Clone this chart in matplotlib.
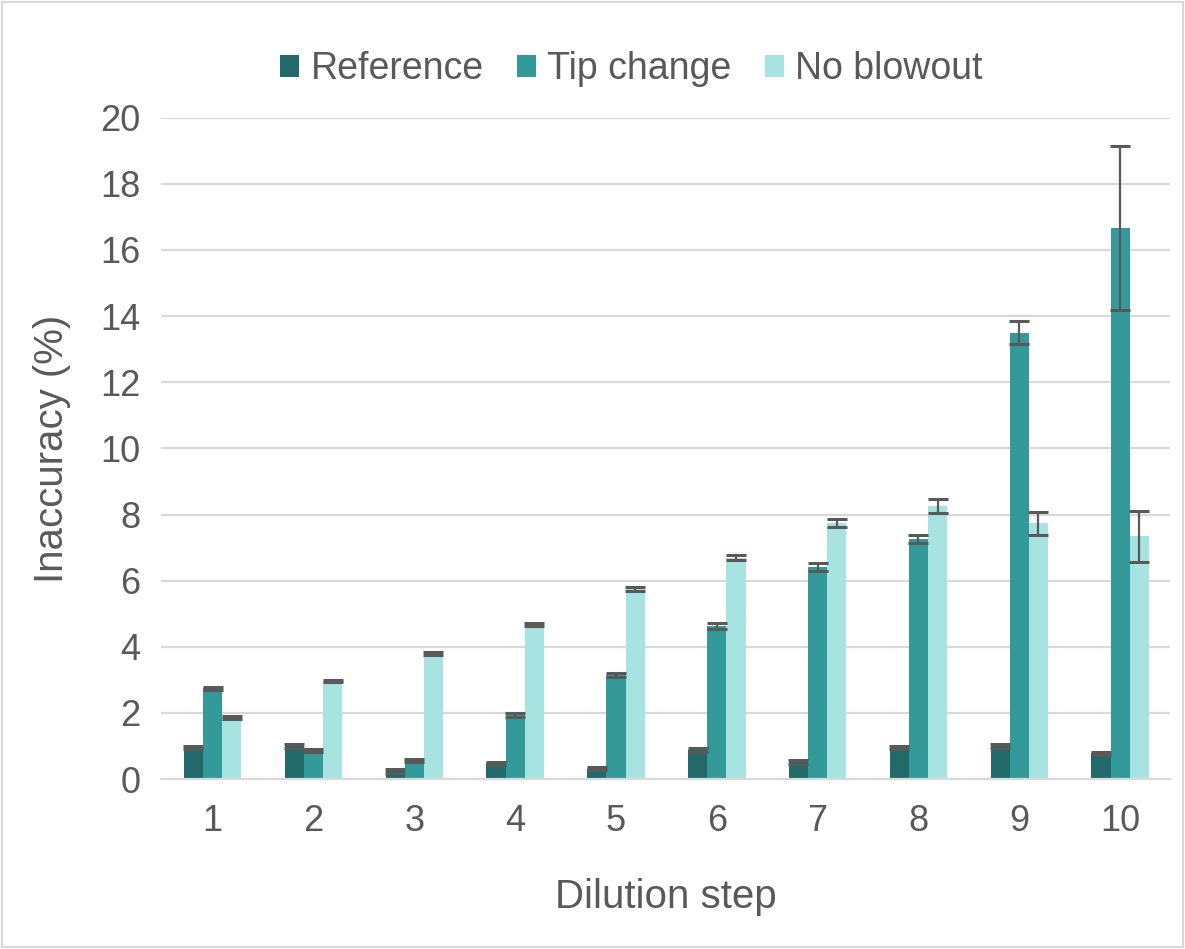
import matplotlib
matplotlib.use("Agg")
import matplotlib.pyplot as plt
import numpy as np
from matplotlib.patches import Rectangle

plt.rcParams['font.family'] = ['Liberation Sans', 'DejaVu Sans']

steps = [1, 2, 3, 4, 5, 6, 7, 8, 9, 10]
series_names = ["Reference", "Tip change", "No blowout"]
reference = [0.95, 1.0, 0.25, 0.48, 0.32, 0.88, 0.52, 0.95, 1.0, 0.78]
reference_err = [0.05, 0.05, 0.05, 0.05, 0.04, 0.05, 0.05, 0.05, 0.05, 0.05]
tip_change = [2.75, 0.87, 0.57, 1.93, 3.15, 4.63, 6.4, 7.25, 13.5, 16.67]
tip_change_err = [0.05, 0.05, 0.05, 0.06, 0.07, 0.08, 0.12, 0.12, 0.35, 2.48]
no_blowout = [1.87, 2.97, 3.8, 4.68, 5.75, 6.7, 7.75, 8.25, 7.73, 7.34]
no_blowout_err = [0.05, 0.04, 0.05, 0.05, 0.06, 0.07, 0.13, 0.21, 0.35, 0.77]

colors = ["#21696A", "#339999", "#A6E3E1"]
txt = "#595959"
grid = "#D9D9D9"

fig = plt.figure(figsize=(11.85, 9.49), dpi=100)
ax = fig.add_axes([0.136, 0.179, 0.851, 0.697])

x = np.arange(1, 11)
w = 0.19
data = [(reference, reference_err), (tip_change, tip_change_err), (no_blowout, no_blowout_err)]
for i, ((vals, errs), c, name) in enumerate(zip(data, colors, series_names)):
    pos = x + (i - 1) * w
    ax.bar(pos, vals, width=w, color=c, label=name, zorder=2)
    ax.errorbar(pos, vals, yerr=errs, fmt='none', ecolor=txt, elinewidth=1.6,
                capsize=7, capthick=2.2, zorder=3)

ax.set_xlim(0.49, 10.49)
ax.set_ylim(0, 20)
ax.set_yticks(range(0, 21, 2))
ax.set_xticks(x)
ax.set_xticklabels([str(s) for s in steps])
ax.yaxis.grid(True, color=grid, linewidth=1.6, zorder=0)
ax.set_axisbelow(True)
for s in ['top', 'right', 'left']:
    ax.spines[s].set_visible(False)
ax.spines['bottom'].set_color(grid)
ax.spines['bottom'].set_linewidth(1.6)
ax.tick_params(axis='both', length=0, labelsize=26, colors=txt)
ax.tick_params(axis='x', pad=18)
ax.tick_params(axis='y', pad=15)

ax.set_xlabel("Dilution step", fontsize=29, color=txt, labelpad=28)
ax.set_ylabel("Inaccuracy (%)", fontsize=29, color=txt, labelpad=21)

leg = fig.legend(loc='center', bbox_to_anchor=(0.533, 0.927), ncol=3, frameon=False,
                 fontsize=27, handlelength=0.5, handleheight=0.5, handletextpad=0.3,
                 columnspacing=0.9, labelcolor=txt)

fig.patches.append(Rectangle((0.002, 0.002), 0.996, 0.996, transform=fig.transFigure,
                             fill=False, edgecolor=grid, linewidth=1.5))

fig.savefig("out.png", dpi=100)
